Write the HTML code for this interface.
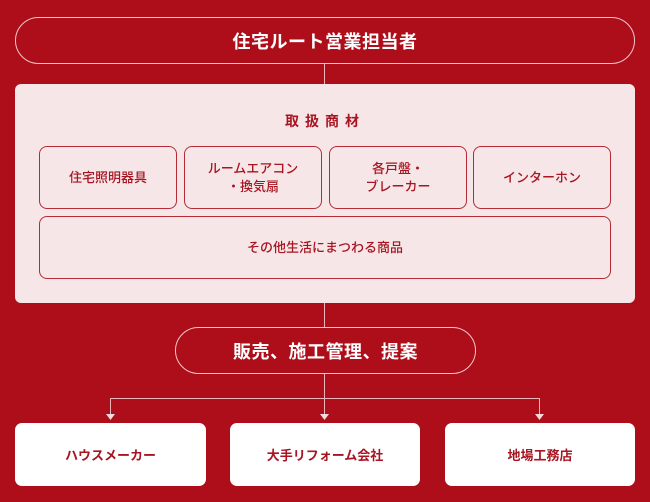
<!DOCTYPE html>
<html><head><meta charset="utf-8"><style>
body{margin:0;width:650px;height:502px;background:#ae0d1a;position:relative;overflow:hidden;font-family:"Liberation Sans","Noto Sans CJK JP",sans-serif}
.a{position:absolute;box-sizing:border-box;display:flex;align-items:center;justify-content:center;text-align:center}
.pill{border:1px solid #f0c8cb;border-radius:24px;color:#fff;font-weight:bold;font-size:18px;letter-spacing:0.5px}
.item{border:1px solid #b52a35;border-radius:8px;color:#a81522;font-size:13px;line-height:18px;font-weight:500}
.bot{background:#fff;border-radius:7px;color:#a81522;font-size:13px;font-weight:bold}
.l{position:absolute;background:#e9b7bb}
</style></head><body>
<div class="a pill" style="left:15px;top:17px;width:620px;height:47px">住宅ルート営業担当者</div>
<div class="l" style="left:324px;top:64px;width:1px;height:20px"></div>
<div class="a" style="left:15px;top:84px;width:620px;height:219px;background:#f6e6e7;border-radius:6px"></div>
<div class="a" style="left:15px;top:110px;width:620px;height:22px;color:#a81522;font-weight:bold;font-size:14px;letter-spacing:6px">取扱商材</div>
<div class="a item" style="left:39px;top:146px;width:138px;height:63px">住宅照明器具</div>
<div class="a item" style="left:184px;top:146px;width:138px;height:63px">ルームエアコン<br>・換気扇</div>
<div class="a item" style="left:329px;top:146px;width:138px;height:63px">各戸盤・<br>ブレーカー</div>
<div class="a item" style="left:473px;top:146px;width:138px;height:63px">インターホン</div>
<div class="a item" style="left:39px;top:216px;width:572px;height:63px">その他生活にまつわる商品</div>
<div class="l" style="left:324px;top:303px;width:1px;height:24px"></div>
<div class="a pill" style="left:175px;top:327px;width:301px;height:47px">販売、施工管理、提案</div>
<div class="l" style="left:324px;top:374px;width:1px;height:42px"></div>
<div class="l" style="left:110px;top:398px;width:430px;height:1px"></div>
<div class="l" style="left:110px;top:398px;width:1px;height:18px"></div>
<div class="l" style="left:539px;top:398px;width:1px;height:18px"></div>
<svg style="position:absolute;left:0;top:0" width="650" height="502"><g fill="#f4dadc"><path d="M106 414h9l-4.5 6z"/><path d="M320 414h9l-4.5 6z"/><path d="M535 414h9l-4.5 6z"/></g></svg>
<div class="a bot" style="left:15px;top:423px;width:191px;height:63px">ハウスメーカー</div>
<div class="a bot" style="left:230px;top:423px;width:190px;height:63px">大手リフォーム会社</div>
<div class="a bot" style="left:445px;top:423px;width:190px;height:63px">地場工務店</div>
</body></html>
